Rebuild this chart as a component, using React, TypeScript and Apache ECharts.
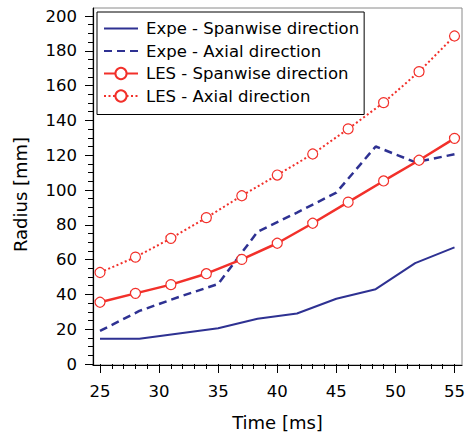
import React, { useEffect, useRef } from "react";
import * as echarts from "echarts";

const expeTimes = [25, 28.33, 31.67, 35, 38.33, 41.67, 45, 48.33, 51.67, 55];
const expeSpanwise = [14.5, 14.5, 17.5, 20.5, 26, 29, 37.5, 43, 58, 67];
const expeAxial = [19, 30.5, 38.5, 46, 76, 87, 98.5, 125, 116, 120.5];

const lesTimes = [25, 28, 31, 34, 37, 40, 43, 46, 49, 52, 55];
const lesSpanwise = [35.5, 40.6, 45.6, 51.9, 60.1, 69.4, 80.9, 93, 105.2, 117.1, 129.7];
const lesAxial = [52.6, 61.4, 72.2, 84.1, 96.7, 108.6, 120.7, 135.1, 150.2, 168, 188.5];

const seriesNames = [
  "Expe - Spanwise direction",
  "Expe - Axial direction",
  "LES - Spanwise direction",
  "LES - Axial direction",
];

const BLUE = "#2e3192";
const RED = "#f2302a";
const FONT = "DejaVu Sans";

const pair = (xs: number[], ys: number[]) => xs.map((x, i) => [x, ys[i]]);

export default function App() {
  const ref = useRef<HTMLDivElement>(null);
  useEffect(() => {
    if (!ref.current) return;
    const chart = echarts.init(ref.current, null, { renderer: "svg" });
    const tickLabel = { color: "#000", fontSize: 16.5, fontFamily: FONT };
    chart.setOption({
      animation: false,
      backgroundColor: "#fff",
      textStyle: { fontFamily: FONT },
      grid: [
        {
          left: 93,
          right: 6,
          top: 8,
          bottom: 67,
          show: true,
          borderColor: "#8a8a8a",
          borderWidth: 1,
          backgroundColor: "transparent",
        },
        { left: 100, right: 12, top: 16, bottom: 72 },
      ],
      xAxis: [
        {
          type: "value",
          gridIndex: 0,
          min: 0,
          max: 1,
          axisLine: { show: true, lineStyle: { color: "#000", width: 1.2 } },
          axisTick: { show: false },
          axisLabel: { show: false },
          splitLine: { show: false },
          name: "Time [ms]",
          nameLocation: "middle",
          nameGap: 48,
          nameTextStyle: { color: "#000", fontSize: 18, fontFamily: FONT },
        },
        {
          type: "value",
          gridIndex: 1,
          min: 25,
          max: 55,
          interval: 5,
          offset: 5,
          axisLine: { show: false },
          axisTick: { show: true, length: 9, lineStyle: { color: "#000" } },
          minorTick: { show: true, splitNumber: 5, length: 5, lineStyle: { color: "#000" } },
          axisLabel: { ...tickLabel, margin: 14 },
          splitLine: { show: false },
          minorSplitLine: { show: false },
        },
      ],
      yAxis: [
        {
          type: "value",
          gridIndex: 0,
          min: 0,
          max: 1,
          axisLine: { show: true, lineStyle: { color: "#000", width: 1.2 } },
          axisTick: { show: false },
          axisLabel: { show: false },
          splitLine: { show: false },
          name: "Radius [mm]",
          nameLocation: "middle",
          nameGap: 64,
          nameTextStyle: {
            color: "#000",
            fontSize: 18,
            fontFamily: FONT,
            padding: [0, 16, 0, 0],
          },
        },
        {
          type: "value",
          gridIndex: 1,
          min: 0,
          max: 200,
          interval: 20,
          offset: 7,
          axisLine: { show: false },
          axisTick: { show: true, length: 8, lineStyle: { color: "#000" } },
          minorTick: { show: true, splitNumber: 4, length: 5, lineStyle: { color: "#000" } },
          axisLabel: { ...tickLabel, margin: 16 },
          splitLine: { show: false },
          minorSplitLine: { show: false },
        },
      ],
      legend: {
        orient: "vertical",
        left: 97,
        top: 12,
        padding: [8, 5, 10, 6],
        itemGap: 5.5,
        itemWidth: 34,
        itemHeight: 14,
        borderColor: "#000",
        borderWidth: 1,
        backgroundColor: "#fff",
        textStyle: { color: "#000", fontSize: 16.5, fontFamily: FONT, padding: [0, 0, 0, 3] },
        data: [
          { name: seriesNames[0], itemStyle: { opacity: 0 } },
          { name: seriesNames[1], itemStyle: { opacity: 0 } },
          { name: seriesNames[2] },
          { name: seriesNames[3] },
        ],
      },
      series: [
        {
          name: seriesNames[0],
          type: "line",
          xAxisIndex: 1,
          yAxisIndex: 1,
          data: pair(expeTimes, expeSpanwise),
          symbol: "none",
          clip: false,
          lineStyle: { color: BLUE, width: 2 },
          itemStyle: { color: BLUE },
        },
        {
          name: seriesNames[1],
          type: "line",
          xAxisIndex: 1,
          yAxisIndex: 1,
          data: pair(expeTimes, expeAxial),
          symbol: "none",
          clip: false,
          lineStyle: { color: BLUE, width: 2.5, type: [8, 5] },
          itemStyle: { color: BLUE },
        },
        {
          name: seriesNames[2],
          type: "line",
          xAxisIndex: 1,
          yAxisIndex: 1,
          data: pair(lesTimes, lesSpanwise),
          symbol: "circle",
          symbolSize: 10,
          clip: false,
          lineStyle: { color: RED, width: 2.5 },
          itemStyle: { color: "#fff", borderColor: RED, borderWidth: 1.2 },
        },
        {
          name: seriesNames[3],
          type: "line",
          xAxisIndex: 1,
          yAxisIndex: 1,
          data: pair(lesTimes, lesAxial),
          symbol: "circle",
          symbolSize: 10,
          clip: false,
          lineStyle: { color: RED, width: 2, type: [2, 2.5] },
          itemStyle: { color: "#fff", borderColor: RED, borderWidth: 1.2 },
        },
      ],
    });
    return () => chart.dispose();
  }, []);
  return (
    <div
      ref={ref}
      style={{ position: "fixed", left: 0, top: 0, width: 468, height: 436 }}
    />
  );
}
